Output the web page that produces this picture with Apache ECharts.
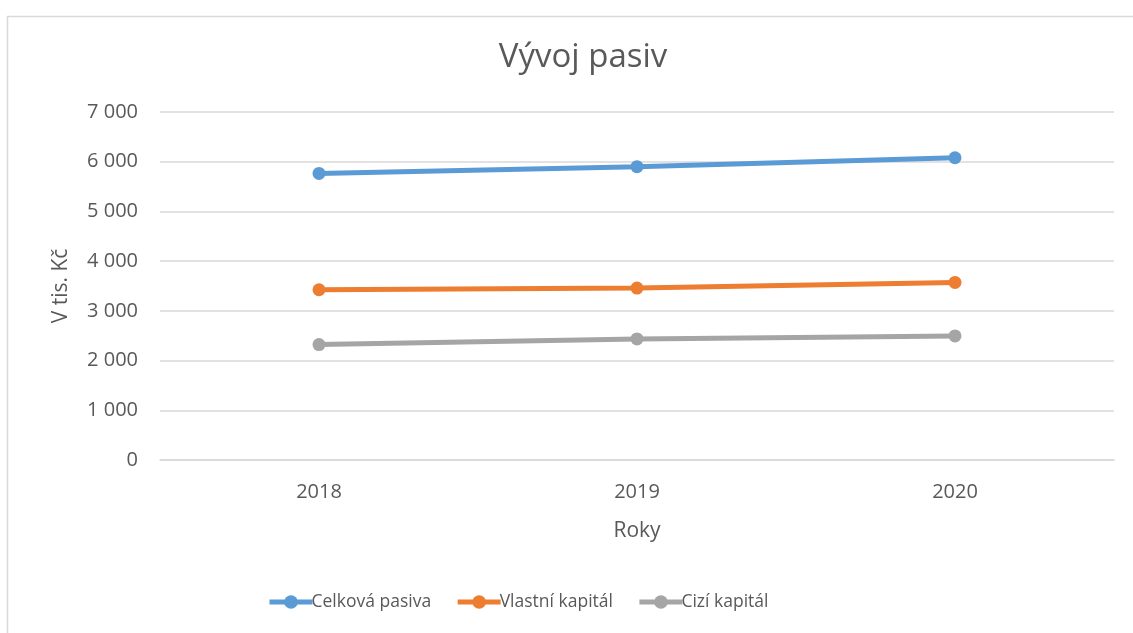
<!DOCTYPE html>
<html>
<head>
<meta charset="utf-8">
<script src="https://cdn.jsdelivr.net/npm/echarts@6/dist/echarts.min.js"></script>
<style>
html,body{margin:0;padding:0;background:#fff;}
#c{width:1133px;height:633px;}
</style>
</head>
<body>
<div id="c"></div>
<script>
const categories = ['2018', '2019', '2020'];
const celkovaPasiva = [5764, 5900, 6080];
const vlastniKapital = [3425, 3458, 3572];
const ciziKapital = [2321, 2435, 2496];
const seriesNames = ['Celková pasiva', 'Vlastní kapitál', 'Cizí kapitál'];
const colors = ['#5B9BD5', '#ED7D31', '#A5A5A5'];

const FONT = 'Open Sans';
const chart = echarts.init(document.getElementById('c'), null, {renderer: 'canvas'});
function mk(name, data, color) {
  return {
    name: name, type: 'line', data: data,
    symbol: 'circle', symbolSize: 13,
    lineStyle: {width: 5, color: color},
    itemStyle: {color: color},
    emphasis: {disabled: true}
  };
}
chart.setOption({
  animation: false,
  backgroundColor: '#fff',
  graphic: [{
    type: 'rect', left: 5, top: 14, silent: true,
    shape: {width: 1140, height: 640},
    style: {fill: 'none', stroke: '#d9d9d9', lineWidth: 1.5}
  }],
  title: {
    text: 'Vývoj pasiv', left: 578, top: 36, textAlign: 'center',
    textStyle: {fontFamily: FONT, fontSize: 33, fontWeight: 'normal', color: '#595959'}
  },
  legend: {
    left: 262, top: 588,
    itemWidth: 43, itemHeight: 17, itemGap: 24,
    lineStyle: {width: 5},
    textStyle: {fontFamily: FONT, fontSize: 17.5, color: '#595959', padding: [0,0,0,-6]},
    data: seriesNames
  },
  grid: {left: 160, right: 19, top: 112, bottom: 173, containLabel: false},
  xAxis: {
    type: 'category', data: categories,
    name: 'Roky', nameLocation: 'middle', nameGap: 61,
    nameTextStyle: {fontFamily: FONT, fontSize: 21, color: '#595959'},
    axisLine: {lineStyle: {color: '#d9d9d9', width: 1.5}},
    axisTick: {show: false},
    axisLabel: {fontFamily: FONT, fontSize: 20, color: '#595959', margin: 22}
  },
  yAxis: {
    type: 'value', min: 0, max: 7000, interval: 1000,
    name: 'V tis. Kč', nameLocation: 'middle', nameGap: 88, nameRotate: 90,
    nameTextStyle: {fontFamily: FONT, fontSize: 21, color: '#595959'},
    axisLine: {show: false},
    axisTick: {show: false},
    splitLine: {lineStyle: {color: '#d9d9d9', width: 1.5}},
    axisLabel: {
      fontFamily: FONT, fontSize: 20, color: '#595959', margin: 22,
      formatter: v => String(v).replace(/\B(?=(\d{3})+(?!\d))/g, ' ')
    }
  },
  series: [
    mk(seriesNames[0], celkovaPasiva, colors[0]),
    mk(seriesNames[1], vlastniKapital, colors[1]),
    mk(seriesNames[2], ciziKapital, colors[2])
  ]
});
</script>
</body>
</html>
